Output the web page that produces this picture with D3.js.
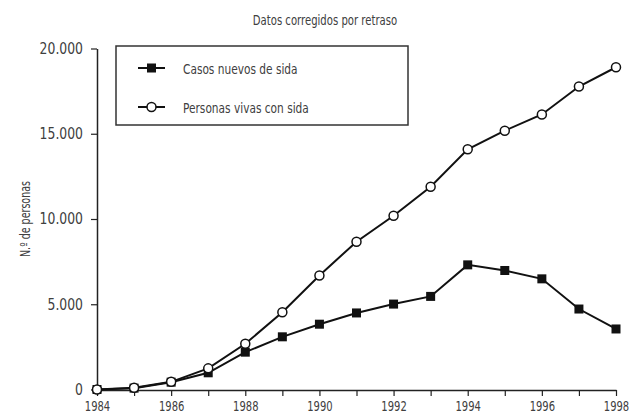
<!DOCTYPE html>
<html>
<head>
<meta charset="utf-8">
<script src="https://cdn.jsdelivr.net/npm/d3@7"></script>
<style>
  body { margin: 0; background: #fff; }
  text { font-family: "DejaVu Sans", sans-serif; fill: #404040; }
</style>
</head>
<body>
<script>
// years on the x axis
const years = [1984, 1985, 1986, 1987, 1988, 1989, 1990, 1991, 1992, 1993, 1994, 1995, 1996, 1997, 1998];
// Casos nuevos de sida
const casosNuevos = [0, 80, 430, 980, 2190, 3090, 3830, 4490, 5010, 5460, 7310, 6980, 6490, 4720, 3550];
// Personas vivas con sida
const personasVivas = [0, 100, 450, 1240, 2680, 4530, 6690, 8670, 10190, 11890, 14090, 15180, 16130, 17770, 18900];
const yTicks = [0, 5000, 10000, 15000, 20000];
const xTicks = [1984, 1986, 1988, 1990, 1992, 1994, 1996, 1998];
const seriesNames = ["Casos nuevos de sida", "Personas vivas con sida"];

const width = 642, height = 416;

const svg = d3.select("body")
  .append("svg")
  .attr("width", width)
  .attr("height", height);

const x = d3.scaleLinear().domain([1984, 1998]).range([97, 616]);
const y = d3.scaleLinear().domain([0, 20000]).range([389.5, 48.5]);

const es = d3.formatLocale({ decimal: ",", thousands: ".", grouping: [3], currency: ["", " €"] });
const fmt = es.format(",");

// the original uses a tall, narrow typeface: squeeze glyphs horizontally
function squeeze(sel, factor) {
  sel.each(function() {
    const w = this.getComputedTextLength();
    if (w > 0) {
      d3.select(this)
        .attr("textLength", w * factor)
        .attr("lengthAdjust", "spacingAndGlyphs");
    }
  });
}

// title
svg.append("text")
  .attr("x", 325)
  .attr("y", 25)
  .attr("text-anchor", "middle")
  .style("font-size", "14px")
  .text("Datos corregidos por retraso")
  .call(squeeze, 0.72);

// y axis
const yAxis = svg.append("g")
  .attr("transform", "translate(97,0)")
  .call(d3.axisLeft(y).tickValues(yTicks).tickFormat(fmt).tickSize(6).tickSizeOuter(0).tickPadding(8));
yAxis.select(".domain").attr("stroke", "#222").attr("stroke-width", 1.5);
yAxis.selectAll(".tick line").attr("stroke", "#222").attr("stroke-width", 1.2);
yAxis.selectAll(".tick text").style("font-size", "15.5px").call(squeeze, 0.8);

// x axis
const xAxis = svg.append("g")
  .attr("transform", "translate(0,390)")
  .call(d3.axisBottom(x).tickValues(years).tickFormat(d => xTicks.includes(d) ? d : "").tickSize(6).tickSizeOuter(0).tickPadding(5));
xAxis.select(".domain").attr("stroke", "#222").attr("stroke-width", 1.5);
xAxis.selectAll(".tick line").attr("stroke", "#222").attr("stroke-width", 1.2);
xAxis.selectAll(".tick text").style("font-size", "13.5px").call(squeeze, 0.74);

// y axis label
svg.append("text")
  .attr("transform", "translate(30,219) rotate(-90)")
  .attr("text-anchor", "middle")
  .style("font-size", "14px")
  .text("N.º de personas")
  .call(squeeze, 0.68);

const line = d3.line()
  .x((d, i) => x(years[i]))
  .y(d => y(d));

// Casos nuevos
svg.append("path")
  .datum(casosNuevos)
  .attr("d", line)
  .attr("fill", "none")
  .attr("stroke", "#111")
  .attr("stroke-width", 2);

svg.selectAll("rect.casos")
  .data(casosNuevos)
  .join("rect")
  .attr("class", "casos")
  .attr("x", (d, i) => x(years[i]) - 4.5)
  .attr("y", d => y(d) - 4.5)
  .attr("width", 9)
  .attr("height", 9)
  .attr("fill", "#111");

// Personas vivas
svg.append("path")
  .datum(personasVivas)
  .attr("d", line)
  .attr("fill", "none")
  .attr("stroke", "#111")
  .attr("stroke-width", 2);

svg.selectAll("circle.vivas")
  .data(personasVivas)
  .join("circle")
  .attr("class", "vivas")
  .attr("cx", (d, i) => x(years[i]))
  .attr("cy", d => y(d))
  .attr("r", 4.5)
  .attr("fill", "#fff")
  .attr("stroke", "#111")
  .attr("stroke-width", 1.5);

// legend
const legend = svg.append("g");
legend.append("rect")
  .attr("x", 116)
  .attr("y", 46)
  .attr("width", 292)
  .attr("height", 79)
  .attr("fill", "#fff")
  .attr("stroke", "#333")
  .attr("stroke-width", 1.5);

const rows = legend.selectAll("g.row")
  .data(seriesNames)
  .join("g")
  .attr("class", "row")
  .attr("transform", (d, i) => `translate(0,${68 + i * 39})`);

rows.append("line")
  .attr("x1", 138).attr("x2", 165)
  .attr("stroke", "#111")
  .attr("stroke-width", 2);

rows.filter((d, i) => i === 0).append("rect")
  .attr("x", 147).attr("y", -4.5)
  .attr("width", 9).attr("height", 9)
  .attr("fill", "#111");

rows.filter((d, i) => i === 1).append("circle")
  .attr("cx", 151.5).attr("r", 4.5)
  .attr("fill", "#fff")
  .attr("stroke", "#111")
  .attr("stroke-width", 1.5);

rows.append("text")
  .attr("x", 183)
  .attr("y", 5.5)
  .style("font-size", "14.5px")
  .text(d => d)
  .call(squeeze, 0.73);
</script>
</body>
</html>
